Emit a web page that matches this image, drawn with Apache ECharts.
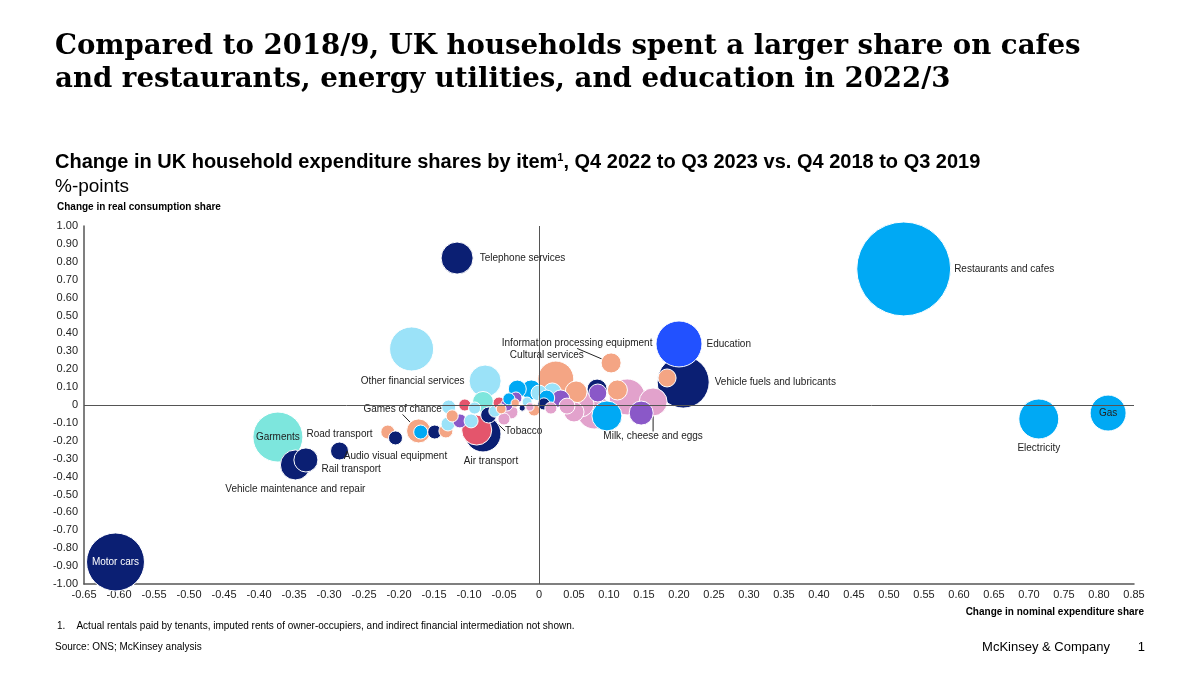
<!DOCTYPE html>
<html>
<head>
<meta charset="utf-8">
<script src="https://cdn.jsdelivr.net/npm/echarts@6/dist/echarts.min.js"></script>
<style>
  html, body { margin: 0; padding: 0; background: #fff; }
  #chart { width: 1200px; height: 675px; }
</style>
</head>
<body>
<div id="chart"></div>
<script>
// change in nominal expenditure share (x), change in real consumption share (y), %-points
// weight = household expenditure share, drives bubble area
const itemNames = [
  'Restaurants and cafes', 'Telephone services', '', 'Education', 'Vehicle fuels and lubricants',
  'Information processing equipment', 'Gas', 'Electricity', 'Garments', 'Vehicle maintenance and repair',
  'Rail transport', 'Road transport', '', 'Audio visual equipment', 'Motor cars',
  'Games of chance', '', '', '', '',
  '', '', '', 'Air transport', '',
  'Other financial services', '', '', '', 'Tobacco',
  '', '', '', '', '',
  '', '', '', '', '',
  '', '', '', 'Cultural services', '',
  '', '', '', '', '',
  '', '', '', '', '',
  '', '', '', 'Milk, cheese and eggs', '',
  '', '', '', '', '',
  ''
];
const nominalChange = [
  0.521, -0.117, -0.182, 0.200, 0.206,
  0.103, 0.813, 0.714, -0.373, -0.348,
  -0.333, -0.285, -0.216, -0.205, -0.605,
  -0.172, -0.169, -0.149, -0.133, -0.130,
  -0.124, -0.113, -0.097, -0.080, -0.089,
  -0.077, -0.080, -0.106, -0.092, -0.072,
  -0.063, -0.054, -0.057, -0.046, -0.040,
  -0.033, -0.043, -0.024, -0.017, -0.011,
  0.000, -0.007, 0.011, 0.024, 0.019,
  0.007, 0.031, 0.017, 0.053, 0.040,
  0.060, 0.079, 0.097, 0.083, 0.084,
  0.112, 0.126, 0.146, 0.163, 0.183,
  -0.013, -0.034, 0.050, -0.031, -0.050,
  -0.129
];
const realChange = [
  0.760, 0.821, 0.313, 0.341, 0.128,
  0.235, -0.045, -0.078, -0.179, -0.335,
  -0.307, -0.257, -0.151, -0.184, -0.877,
  -0.145, -0.151, -0.151, -0.145, -0.106,
  -0.061, -0.089, -0.089, -0.162, -0.140,
  0.134, 0.017, 0.000, -0.017, -0.056,
  -0.034, -0.022, 0.011, 0.000, -0.039,
  0.039, 0.034, -0.017, 0.017, 0.084,
  0.067, -0.028, 0.039, 0.145, 0.073,
  0.006, 0.034, -0.017, 0.073, -0.006,
  0.006, -0.039, -0.061, 0.089, 0.067,
  0.084, 0.045, -0.045, 0.017, 0.151,
  -0.011, 0.011, -0.039, 0.089, -0.078,
  -0.011
];
const weights = [
  9.00, 1.05, 1.98, 2.16, 2.76,
  0.41, 1.32, 1.63, 2.55, 0.92,
  0.59, 0.33, 0.20, 0.20, 3.43,
  0.59, 0.20, 0.20, 0.20, 0.20,
  0.15, 0.20, 0.20, 1.32, 0.92,
  1.05, 0.45, 0.15, 0.15, 0.26,
  0.15, 0.10, 0.15, 0.15, 0.20,
  0.15, 0.15, 0.04, 0.10, 0.41,
  0.26, 0.15, 0.26, 1.32, 0.33,
  0.15, 0.33, 0.15, 0.49, 0.26,
  0.69, 1.18, 0.92, 0.41, 0.33,
  0.41, 1.32, 0.59, 0.80, 0.33,
  0.07, 0.07, 0.41, 0.33, 0.15,
  0.20
];
// colour group of each item (index into palette)
const colourGroup = [
  2, 0, 3, 1, 0,
  5, 2, 2, 4, 0,
  0, 0, 5, 0, 0,
  5, 2, 0, 5, 3,
  5, 7, 3, 0, 8,
  3, 4, 8, 3, 0,
  3, 5, 8, 7, 6,
  7, 2, 0, 3, 2,
  3, 5, 2, 5, 3,
  0, 7, 6, 5, 6,
  6, 6, 2, 0, 7,
  5, 6, 7, 6, 5,
  6, 5, 6, 2, 6,
  3
];
const xTicks = { min: -0.65, max: 0.85, step: 0.05 };
const yTicks = { min: -1, max: 1, step: 0.1 };

const palette = ['#0b1f73', '#2251ff', '#00a9f4', '#9be2f8', '#7de6dd', '#f4a584', '#e2a2cc', '#8a58c8', '#e4556c'];
const FONT = '"Liberation Sans", Arial, sans-serif';
const SIZE_K = 31.3;

const labelStyles = {
  'Restaurants and cafes': { position: 'right', distance: 3 },
  'Telephone services': { position: 'right', distance: 6 },
  'Education': { position: 'right', distance: 4 },
  'Vehicle fuels and lubricants': { position: 'right', distance: 5 },
  'Other financial services': { position: 'left', distance: 4 },
  'Information processing equipment': { position: 'top', distance: 5 },
  'Cultural services': { position: 'top', distance: 1 },
  'Gas': { position: 'inside' },
  'Electricity': { position: 'bottom', distance: 4 },
  'Garments': { position: 'inside' },
  'Road transport': { position: 'top', distance: 2 },
  'Rail transport': { position: 'right', distance: 3 },
  'Vehicle maintenance and repair': { position: 'bottom', distance: 4 },
  'Audio visual equipment': { position: 'bottom', distance: 6 },
  'Games of chance': { position: 'top', distance: 4 },
  'Air transport': { position: 'bottom', distance: 3 },
  'Tobacco': { position: 'right', distance: 2 },
  'Milk, cheese and eggs': { position: 'bottom', distance: 1 },
  'Motor cars': { position: 'inside', color: '#fff' }
};
// labels shifted from their default spot; line = draw a leader line
const labelMoves = {
  'Information processing equipment': { d: [-34, 1], line: true },
  'Cultural services': { d: [-9, 1] },
  'Games of chance': { d: [-16, 0], line: true },
  'Tobacco': { d: [6, 16], line: true },
  'Milk, cheese and eggs': { d: [0, 14], line: true },
  'Rail transport': { d: [0, 9] },
  'Air transport': { d: [8, 1] }
};

const items = itemNames.map((name, i) => {
  const d = {
    name,
    value: [nominalChange[i], realChange[i], weights[i]],
    itemStyle: { color: palette[colourGroup[i]] }
  };
  if (labelStyles[name]) {
    d.label = Object.assign({ show: true, formatter: '{b}' }, labelStyles[name]);
    if (labelMoves[name] && labelMoves[name].line) d.labelLine = { show: true };
  }
  return d;
}).sort((a, b) => b.value[2] - a.value[2]);

const tickFmt = v => Math.abs(v) < 1e-9 ? '0' : v.toFixed(2);
const txt = (size, weight) => ({ fontFamily: FONT, fontWeight: weight || 'normal', fontSize: size, color: '#000' });

const chart = echarts.init(document.getElementById('chart'), null, { renderer: 'canvas' });

chart.setOption({
  animation: false,
  textStyle: { fontFamily: FONT },
  title: [
    {
      text: 'Compared to 2018/9, UK households spent a larger share on cafes\nand restaurants, energy utilities, and education in 2022/3',
      left: 55, top: 30, padding: 0,
      textStyle: { fontFamily: '"DejaVu Serif", Georgia, serif', fontWeight: 'bold', fontSize: 27.6, lineHeight: 33, color: '#000' }
    },
    {
      text: '{a|Change in UK household expenditure shares by item}{s|1}{a|, Q4 2022 to Q3 2023 vs. Q4 2018 to Q3 2019}',
      left: 55, top: 152, padding: 0,
      textStyle: {
        rich: {
          a: txt(20, 'bold'),
          s: Object.assign(txt(11, 'bold'), { verticalAlign: 'top', padding: [0, 0, 10, 0] })
        }
      }
    },
    { text: '%-points', left: 55, top: 177, padding: 0, textStyle: txt(19) },
    { text: 'Change in real consumption share', left: 57, top: 202, padding: 0, textStyle: txt(10, 'bold') },
    { text: 'Change in nominal expenditure share', right: 56, top: 607, padding: 0, textStyle: txt(10, 'bold') },
    {
      text: '1.    Actual rentals paid by tenants, imputed rents of owner-occupiers, and indirect financial intermediation not shown.',
      left: 57, top: 621, padding: 0, textStyle: txt(10)
    },
    { text: 'Source: ONS; McKinsey analysis', left: 55, top: 642, padding: 0, textStyle: txt(10) },
    { text: 'McKinsey & Company', right: 90, top: 641, padding: 0, textStyle: txt(13) },
    { text: '1', right: 55, top: 641, padding: 0, textStyle: txt(13) }
  ],
  grid: { left: 84, right: 66, top: 226, bottom: 91 },
  xAxis: {
    type: 'value',
    min: xTicks.min, max: xTicks.max, interval: xTicks.step,
    axisLine: { show: true, onZero: false, lineStyle: { color: '#555', width: 1.5 } },
    axisTick: { show: false },
    splitLine: { show: false },
    axisLabel: { formatter: tickFmt, fontSize: 11, color: '#222', margin: 5, fontFamily: FONT }
  },
  yAxis: {
    type: 'value',
    min: yTicks.min, max: yTicks.max, interval: yTicks.step,
    axisLine: { show: true, onZero: false, lineStyle: { color: '#555', width: 1.5 } },
    axisTick: { show: false },
    splitLine: { show: false },
    axisLabel: { formatter: tickFmt, fontSize: 11, color: '#222', margin: 6, fontFamily: FONT }
  },
  series: [
    {
      type: 'scatter',
      data: [],
      silent: true,
      markLine: {
        silent: true,
        symbol: 'none',
        label: { show: false },
        lineStyle: { color: '#555', width: 1, type: 'solid' },
        data: [{ xAxis: 0 }, { yAxis: 0 }]
      }
    },
    {
      type: 'scatter',
      data: items,
      symbolSize: v => Math.sqrt(v[2]) * SIZE_K,
      itemStyle: { borderColor: '#fff', borderWidth: 1, opacity: 1 },
      label: { show: false, fontSize: 10, color: '#222', fontFamily: FONT },
      labelLine: { show: false, lineStyle: { color: '#222', width: 1 } },
      labelLayout: p => {
        const m = labelMoves[items[p.dataIndex].name];
        return m ? { dx: m.d[0], dy: m.d[1] } : {};
      },
      emphasis: { disabled: true }
    }
  ]
});
</script>
</body>
</html>
